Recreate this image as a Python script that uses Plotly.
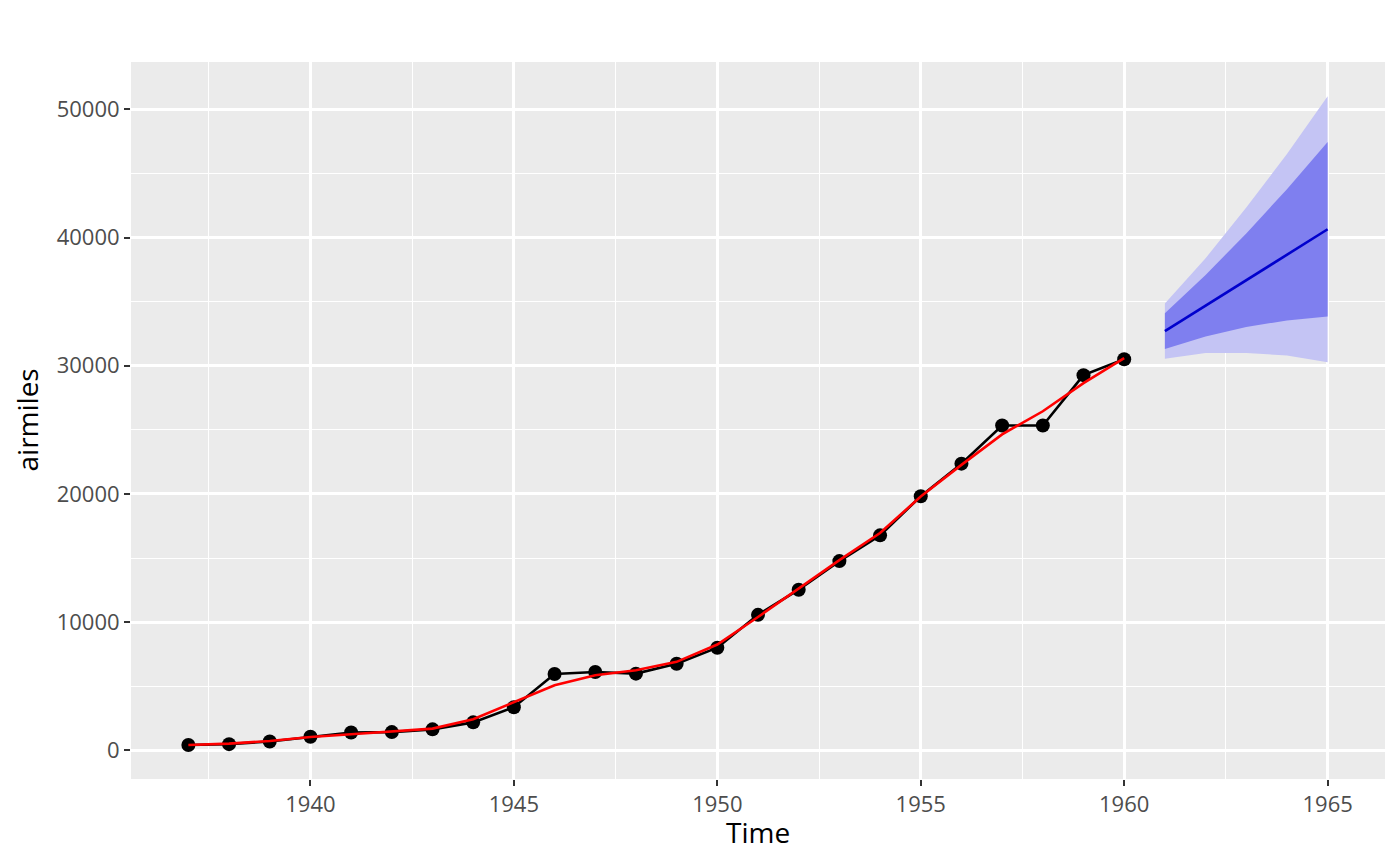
import plotly.graph_objects as go

# airmiles series (1937-1960)
years = list(range(1937, 1961))
airmiles = [412, 480, 683, 1052, 1385, 1418, 1634, 2178, 3362, 5948, 6109, 5981,
            6753, 8003, 10566, 12528, 14760, 16769, 19819, 22362, 25340, 25343,
            29269, 30514]
# fitted values (red line)
fitted = [412, 520, 730, 1040, 1250, 1480, 1690, 2420, 3780, 5080, 5860, 6250,
          6900, 8250, 10400, 12600, 14840, 16950, 19800, 22270, 24650, 26450,
          28650, 30600]

# forecast 1961-1965
fc_years = [1961, 1962, 1963, 1964, 1965]
fc_mean = [32700, 34690, 36670, 38660, 40650]
lo80 = [31300, 32290, 33020, 33540, 33850]
hi80 = [34100, 37090, 40320, 43780, 47450]
lo95 = [30550, 30990, 30990, 30800, 30280]
hi95 = [34850, 38390, 42350, 46520, 51020]

fig = go.Figure()

# 95% band
fig.add_trace(go.Scatter(x=fc_years, y=lo95, mode="lines", line=dict(width=0),
                         showlegend=False, hoverinfo="skip"))
fig.add_trace(go.Scatter(x=fc_years, y=hi95, mode="lines", line=dict(width=0),
                         fill="tonexty", fillcolor="#C4C4F4", showlegend=False))
# 80% band
fig.add_trace(go.Scatter(x=fc_years, y=lo80, mode="lines", line=dict(width=0),
                         showlegend=False, hoverinfo="skip"))
fig.add_trace(go.Scatter(x=fc_years, y=hi80, mode="lines", line=dict(width=0),
                         fill="tonexty", fillcolor="#7F7FEF", showlegend=False))
# forecast mean
fig.add_trace(go.Scatter(x=fc_years, y=fc_mean, mode="lines",
                         line=dict(color="#0000CD", width=2.6), showlegend=False))

# data
fig.add_trace(go.Scatter(x=years, y=airmiles, mode="lines+markers",
                         line=dict(color="black", width=2.6),
                         marker=dict(color="black", size=14), showlegend=False))
# fitted
fig.add_trace(go.Scatter(x=years, y=fitted, mode="lines",
                         line=dict(color="red", width=2.6), showlegend=False))

axis_common = dict(
    showgrid=True, gridcolor="white", gridwidth=2.6,
    zeroline=False, showline=False,
    ticks="outside", ticklen=6, tickcolor="#333333", tickwidth=2.4,
    tickfont=dict(family="Open Sans", size=22, color="#4D4D4D"),
)

fig.update_xaxes(
    **axis_common,
    range=[1935.59, 1966.41], tick0=1940, dtick=5,
    minor=dict(dtick=2.5, tick0=1940, showgrid=True, gridcolor="white", gridwidth=1.3),
)
fig.update_yaxes(
    **axis_common,
    range=[-2240, 53700], tick0=0, dtick=10000, tickformat="d",
    minor=dict(dtick=5000, tick0=0, showgrid=True, gridcolor="white", gridwidth=1.3),
)

# axis titles placed as annotations to match ggplot spacing
title_font = dict(family="Open Sans", size=28, color="black")
fig.add_annotation(text="Time", xref="paper", yref="paper", x=0.5, y=0,
                   yshift=-53, yanchor="middle", showarrow=False, font=title_font)
fig.add_annotation(text="airmiles", xref="paper", yref="paper", x=0, y=0.5,
                   xshift=-105, xanchor="center", textangle=-90,
                   showarrow=False, font=title_font)

fig.update_layout(
    width=1400, height=866,
    margin=dict(l=123, r=23, t=54, b=95),
    plot_bgcolor="#EBEBEB", paper_bgcolor="white",
    font=dict(family="Open Sans"),
)

fig.write_html("out.html")
